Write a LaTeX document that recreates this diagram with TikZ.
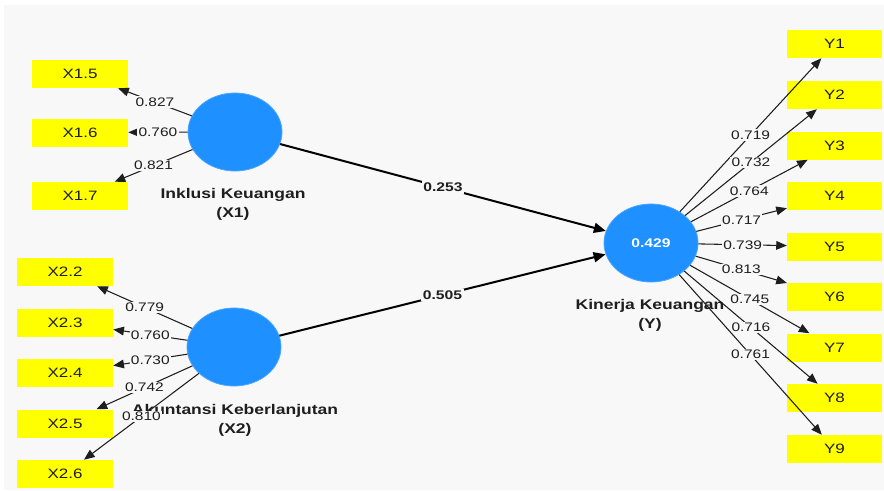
\documentclass[tikz,border=0pt]{standalone}
\usepackage{fontspec}
\usepackage{tikz}
\usetikzlibrary{arrows.meta, positioning, shapes}

\newfontfamily\plsfont{Liberation Sans}[FakeStretch=1.25]
\definecolor{plsbg}{RGB}{248,248,248}
\definecolor{plsblue}{RGB}{30,144,255}
\definecolor{plsyellow}{RGB}{255,255,0}
\definecolor{plstext}{RGB}{30,30,30}

\begin{document}
\begin{tikzpicture}[x=0.75pt, y=-0.75pt,
                    latent/.style={ellipse, fill=plsblue, draw=plsblue!80!white, line width=0.6pt,
                                   minimum width=70.5pt, minimum height=58.5pt, inner sep=0pt,
                                   text=white, font=\plsfont\bfseries\fontsize{9.4}{11}\selectfont},
                    indicator/.style={rectangle, fill=plsyellow, minimum width=72pt, minimum height=21pt,
                                      inner sep=0pt, text=plstext, font=\plsfont\fontsize{10.2}{12}\selectfont},
                    lvname/.style={align=center, text=plstext, inner sep=0pt,
                                   font=\plsfont\bfseries\fontsize{10.5}{14.25}\selectfont},
                    lval/.style={fill=plsbg, inner sep=1pt, text=plstext,
                                 font=\plsfont\fontsize{9.3}{10}\selectfont},
                    pval/.style={fill=plsbg, inner sep=1.2pt, text=plstext,
                                 font=\plsfont\bfseries\fontsize{9.4}{11}\selectfont},
                    load/.style={draw=plstext, line width=0.8pt, -{Triangle[length=8pt, width=6.5pt]}},
                    path/.style={draw=black, line width=1.5pt, -{Triangle[length=9pt, width=7.5pt]}}]

\useasboundingbox (0,0) rectangle (884,490);
\fill[plsbg] (4,5) rectangle (884,490);

% Latent variables
\node[latent] (X1) at (235,132) {};
\node[latent] (X2) at (234,347) {};
\node[latent] (Y)  at (651,243) {0.429};

\node[lvname] (X1name) at (233,204) {Inklusi Keuangan\\(X1)};
\node[lvname] (X2name) at (235,420) {Akuntansi Keberlanjutan\\(X2)};
\node[lvname] (Yname)  at (650,315) {Kinerja Keuangan\\(Y)};

% Indicators
\node[indicator] (X15) at (80,74)    {X1.5};
\node[indicator] (X16) at (80,132.5) {X1.6};
\node[indicator] (X17) at (80,196)   {X1.7};

\node[indicator] (X22) at (65,272)   {X2.2};
\node[indicator] (X23) at (65,322.5) {X2.3};
\node[indicator] (X24) at (65,373)   {X2.4};
\node[indicator] (X25) at (65,423.5) {X2.5};
\node[indicator] (X26) at (65,474)   {X2.6};

\node[indicator, minimum width=71pt] (Y1) at (834.5,44)    {Y1};
\node[indicator, minimum width=71pt] (Y2) at (834.5,95)    {Y2};
\node[indicator, minimum width=71pt] (Y3) at (834.5,145.5) {Y3};
\node[indicator, minimum width=71pt] (Y4) at (834.5,196)   {Y4};
\node[indicator, minimum width=71pt] (Y5) at (834.5,246.5) {Y5};
\node[indicator, minimum width=71pt] (Y6) at (834.5,297)   {Y6};
\node[indicator, minimum width=71pt] (Y7) at (834.5,347.5) {Y7};
\node[indicator, minimum width=71pt] (Y8) at (834.5,398)   {Y8};
\node[indicator, minimum width=71pt] (Y9) at (834.5,449)   {Y9};

% Outer loadings
\draw[load] (X1) -- (X15) node[midway, lval] {0.827};
\draw[load] (X1) -- (X16) node[midway, lval] {0.760};
\draw[load] (X1) -- (X17) node[midway, lval] {0.821};

\draw[load] (X2) -- (X22) node[midway, lval] {0.779};
\draw[load] (X2) -- (X23) node[midway, lval] {0.760};
\draw[load] (X2) -- (X24) node[midway, lval] {0.730};
\draw[load] (X2) -- (X25) node[midway, lval] {0.742};
\draw[load] (X2) -- (X26) node[midway, lval] {0.810};

\draw[load] (Y) -- (Y1) node[midway, lval] {0.719};
\draw[load] (Y) -- (Y2) node[midway, lval] {0.732};
\draw[load] (Y) -- (Y3) node[midway, lval] {0.764};
\draw[load] (Y) -- (Y4) node[midway, lval] {0.717};
\draw[load] (Y) -- (Y5) node[midway, lval] {0.739};
\draw[load] (Y) -- (Y6) node[midway, lval] {0.813};
\draw[load] (Y) -- (Y7) node[midway, lval] {0.745};
\draw[load] (Y) -- (Y8) node[midway, lval] {0.716};
\draw[load] (Y) -- (Y9) node[midway, lval] {0.761};

% Path coefficients
\draw[path] (X1) -- (Y) node[midway, pval] {0.253};
\draw[path] (X2) -- (Y) node[midway, pval] {0.505};

\end{tikzpicture}
\end{document}
